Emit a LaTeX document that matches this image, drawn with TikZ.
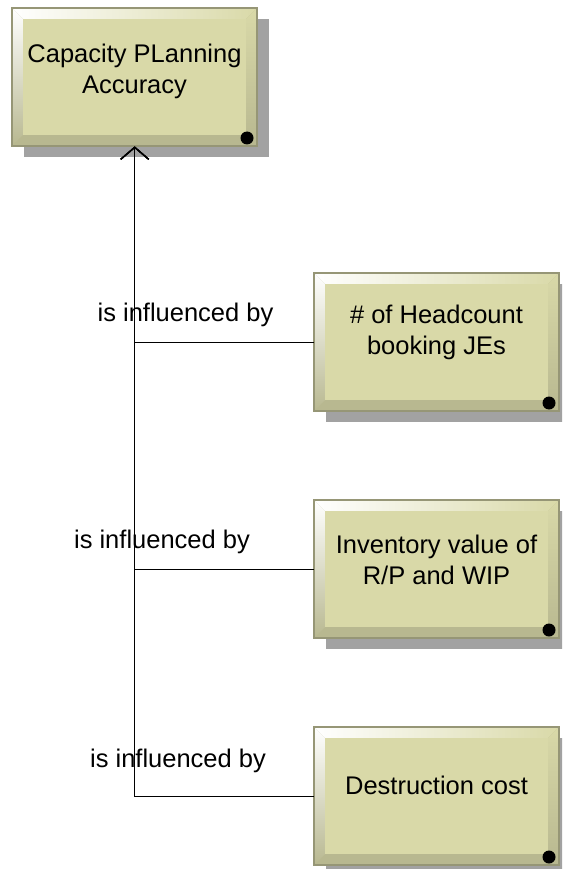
\documentclass[tikz,border=0pt]{standalone}
\usepackage{fontspec}
\setmainfont{Liberation Sans}
\usetikzlibrary{arrows.meta}

\definecolor{boxfill}{RGB}{217,217,168}
\definecolor{boxrim}{RGB}{150,150,118}
\definecolor{bevel}{RGB}{184,184,144}
\definecolor{shadowgray}{RGB}{162,162,162}

\tikzset{
  boxtext/.style={inner sep=0pt, align=center, text=black,
    font=\fontsize{25.5pt}{31pt}\selectfont},
  lbl/.style={inner sep=0pt, text=black,
    font=\fontsize{25.5pt}{31pt}\selectfont},
  conn/.style={draw=black, line width=1.4pt,
    -{Straight Barb[length=12pt, width=28pt]}},
}

% concept box: name, left, top (outer frame 245 x 138, bevel 11)
\newcommand\conceptbox[3]{%
  \fill[shadowgray] (#2+12,#3+11) rectangle (#2+257,#3+149);
  \fill[bevel] (#2,#3) rectangle (#2+245,#3+138);
  \shade[left color=white, right color=boxfill]
    (#2,#3) -- (#2+245,#3) -- (#2+234,#3+11) -- (#2+11,#3+11) -- cycle;
  \shade[top color=white, bottom color=bevel]
    (#2,#3) -- (#2+11,#3+11) -- (#2+11,#3+127) -- (#2,#3+138) -- cycle;
  \shade[top color=boxfill, bottom color=bevel]
    (#2+245,#3) -- (#2+245,#3+138) -- (#2+234,#3+127) -- (#2+234,#3+11) -- cycle;
  \fill[boxfill] (#2+11,#3+11) rectangle (#2+234,#3+127);
  \draw[boxrim, line width=1.5pt] (#2,#3) rectangle (#2+245,#3+138);
  \fill[black] (#2+235,#3+130) circle (6.5pt);
  \node[inner sep=0pt, minimum width=245pt, minimum height=138pt,
        anchor=north west] (#1) at (#2,#3) {};
}

\begin{document}
\begin{tikzpicture}[x=1pt, y=-1pt]
  \useasboundingbox (0,0) rectangle (562,869);
  \clip (0,0) rectangle (562,869);

  \conceptbox{cap}{12}{8}
  \conceptbox{head}{314}{273}
  \conceptbox{inv}{314}{500}
  \conceptbox{destr}{314}{727}

  \node[boxtext, anchor=north] (capText) at (134.5,43.5)
    {Capacity PLanning\\Accuracy};
  \node[boxtext, anchor=north] (headText) at (436.5,305)
    {\# of Headcount\\booking JEs};
  \node[boxtext, anchor=north] (invText) at (436.5,534.5)
    {Inventory value of\\R/P and WIP};
  \node[boxtext, anchor=base] (destrText) at (436.5,794)
    {Destruction cost};

  \draw[conn] (head.west) -| (cap.south);
  \draw[conn] (inv.west) -| (cap.south);
  \draw[conn] (destr.west) -| (cap.south);

  \node[lbl, anchor=base] (lblHead) at (185.5,321) {is influenced by};
  \node[lbl, anchor=base] (lblInv) at (162,548) {is influenced by};
  \node[lbl, anchor=base] (lblDestr) at (178,767) {is influenced by};
\end{tikzpicture}
\end{document}
